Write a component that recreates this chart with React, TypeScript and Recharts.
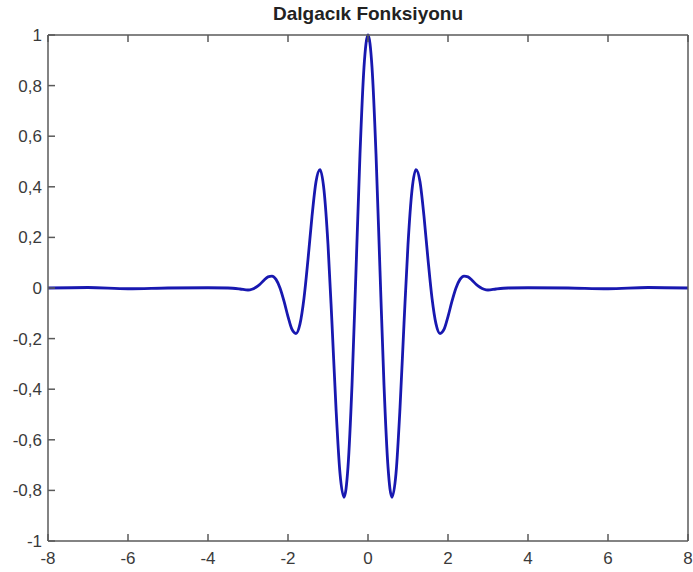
import { LineChart, Line, XAxis, YAxis } from 'recharts'

// values
const xValues = [
    -8, -7, -6, -5, -4, -3.5, -3.2,
    -3, -2.9, -2.8, -2.7, -2.6, -2.5, -2.4, -2.3, -2.2, -2.1,
    -2, -1.9, -1.8, -1.7, -1.6, -1.5, -1.4, -1.3, -1.2, -1.1,
    -1, -0.9, -0.8, -0.7, -0.6, -0.5, -0.4, -0.3, -0.2, -0.1,
    0,
    0.1, 0.2, 0.3, 0.4, 0.5, 0.6, 0.7, 0.8, 0.9, 1,
    1.1, 1.2, 1.3, 1.4, 1.5, 1.6, 1.7, 1.8, 1.9, 2,
    2.1, 2.2, 2.3, 2.4, 2.5, 2.6, 2.7, 2.8, 2.9, 3,
    3.2, 3.5, 4, 5, 6, 7, 8,
]
const yValues = [
    0, 0.002, -0.003, 0, 0.001, 0, -0.004,
    -0.008, -0.005, 0.003, 0.015, 0.031, 0.044, 0.047, 0.034, 0, -0.052,
    -0.113, -0.164, -0.18, -0.142, -0.04, 0.113, 0.283, 0.42, 0.468, 0.387,
    0.172, -0.141, -0.475, -0.733, -0.827, -0.707, -0.384, 0.068, 0.53, 0.873,
    1,
    0.873, 0.53, 0.068, -0.384, -0.707, -0.827, -0.733, -0.475, -0.141, 0.172,
    0.387, 0.468, 0.42, 0.283, 0.113, -0.04, -0.142, -0.18, -0.164, -0.113,
    -0.052, 0, 0.034, 0.047, 0.044, 0.031, 0.015, 0.003, -0.005, -0.008,
    -0.004, 0, 0.001, 0, -0.003, 0.002, 0,
]

const xTicks = [-8, -6, -4, -2, 0, 2, 4, 6, 8]
const yTicks = [-1, -0.8, -0.6, -0.4, -0.2, 0, 0.2, 0.4, 0.6, 0.8, 1]

const data = xValues.map((x, i) => ({ x, y: yValues[i] }))

const frame = '#5a5a5a'
const labelFont = { fontFamily: '"Liberation Sans", Arial, sans-serif', fontSize: 17, fill: '#3a3a3a' }

const fmt = (v: number) => String(v).replace('.', ',')

function BottomTick({ x, y, payload }: any) {
    return (
        <g>
            <line x1={x} x2={x} y1={y} y2={y - 7} stroke={frame} strokeWidth={1.5} />
            <text x={x} y={y + 23} textAnchor="middle" {...labelFont}>{fmt(payload.value)}</text>
        </g>
    )
}

function LeftTick({ x, y, payload }: any) {
    return (
        <g>
            <line x1={x} x2={x + 7} y1={y} y2={y} stroke={frame} strokeWidth={1.5} />
            <text x={x - 6} y={y + 6} textAnchor="end" {...labelFont}>{fmt(payload.value)}</text>
        </g>
    )
}

function TopTick({ x, y }: any) {
    return <line x1={x} x2={x} y1={y} y2={y + 7} stroke={frame} strokeWidth={1.5} />
}

function RightTick({ x, y }: any) {
    return <line x1={x} x2={x - 7} y1={y} y2={y} stroke={frame} strokeWidth={1.5} />
}

export default function App() {
    return (
        <div style={{ position: 'absolute', left: 0, top: 0, width: 693, height: 572, background: '#fff' }}>
            <div style={{
                position: 'absolute', left: 48, top: 3, width: 640, textAlign: 'center',
                fontFamily: '"Liberation Sans", Arial, sans-serif', fontWeight: 'bold', fontSize: 19, color: '#222',
            }}>
                Dalgacık Fonksiyonu
            </div>
            <LineChart width={693} height={572} data={data} margin={{ top: 34, right: 4, bottom: 30, left: 47 }}>
                <XAxis dataKey="x" type="number" domain={[-8, 8]} ticks={xTicks} interval={0}
                    height={1} tickSize={0} tickMargin={0} tick={<BottomTick />}
                    axisLine={{ stroke: frame, strokeWidth: 1.5 }} />
                <XAxis xAxisId="top" orientation="top" dataKey="x" type="number" domain={[-8, 8]} ticks={xTicks} interval={0}
                    height={1} tickSize={0} tickMargin={0} tick={<TopTick />}
                    axisLine={{ stroke: frame, strokeWidth: 1.5 }} />
                <YAxis type="number" domain={[-1, 1]} ticks={yTicks} interval={0}
                    width={1} tickSize={0} tickMargin={0} tick={<LeftTick />}
                    axisLine={{ stroke: frame, strokeWidth: 1.5 }} />
                <YAxis yAxisId="right" orientation="right" type="number" domain={[-1, 1]} ticks={yTicks} interval={0}
                    width={1} tickSize={0} tickMargin={0} tick={<RightTick />}
                    axisLine={{ stroke: frame, strokeWidth: 1.5 }} />
                <Line type="monotone" dataKey="y" stroke="#1818b0" strokeWidth={2.8} dot={false} isAnimationActive={false} />
            </LineChart>
        </div>
    )
}
